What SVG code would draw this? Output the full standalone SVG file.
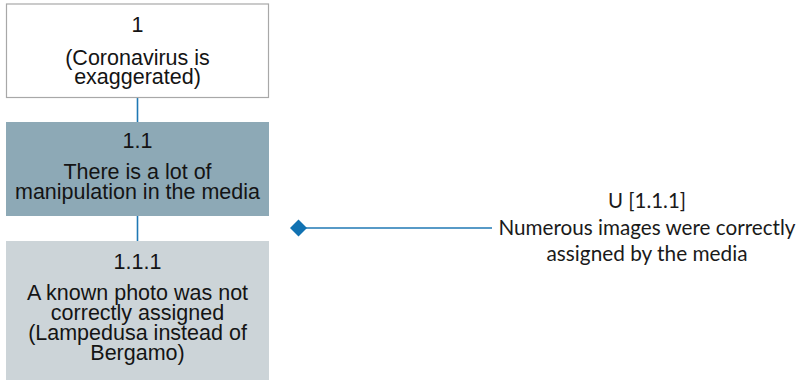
<svg xmlns="http://www.w3.org/2000/svg" width="811" height="380" viewBox="0 0 811 380">
  <style>
    .box-text { font-family: "Liberation Sans", Arial, sans-serif; font-size: 21.5px; fill: #141414; text-anchor: middle; }
    .note-text { font-family: Lato, "Open Sans", sans-serif; font-size: 20.5px; fill: #1a1a1a; text-anchor: middle; }
    .link { stroke: #1f78b4; stroke-width: 1.6; fill: none; }
  </style>
  <rect width="811" height="380" fill="#ffffff"/>

  <!-- connectors -->
  <g id="connectors">
    <line class="link" x1="137.5" y1="97" x2="137.5" y2="122"/>
    <line class="link" x1="137.5" y1="216" x2="137.5" y2="241"/>
    <line class="link" x1="300" y1="228" x2="492" y2="228" stroke="#2a86c0"/>
    <polygon points="298.5,219.5 307,228 298.5,236.5 290,228" fill="#1172b2"/>
  </g>

  <!-- root claim -->
  <g id="node-1">
    <rect x="6.5" y="4" width="262" height="93.5" fill="#ffffff" stroke="#a8a8a8" stroke-width="1.2"/>
    <text class="box-text" x="137.5" y="32">1</text>
    <text class="box-text" x="137.5" y="65">(Coronavirus is</text>
    <text class="box-text" x="137.5" y="84">exaggerated)</text>
  </g>

  <g id="node-1-1">
    <rect x="6" y="122" width="263" height="94" fill="#8da9b6"/>
    <text class="box-text" x="137.5" y="148">1.1</text>
    <text class="box-text" x="137.5" y="179">There is a lot of</text>
    <text class="box-text" x="137.5" y="199">manipulation in the media</text>
  </g>

  <g id="node-1-1-1">
    <rect x="6" y="241" width="263" height="139" fill="#ccd4d8"/>
    <text class="box-text" x="137.5" y="269">1.1.1</text>
    <text class="box-text" x="137.5" y="300">A known photo was not</text>
    <text class="box-text" x="137.5" y="320">correctly assigned</text>
    <text class="box-text" x="137.5" y="340">(Lampedusa instead of</text>
    <text class="box-text" x="137.5" y="360">Bergamo)</text>
  </g>

  <!-- rebuttal note -->
  <g id="node-u-1-1-1">
    <text class="note-text" x="647" y="208" textLength="78" lengthAdjust="spacingAndGlyphs">U [1.1.1]</text>
    <text class="note-text" x="647" y="235" textLength="297" lengthAdjust="spacingAndGlyphs">Numerous images were correctly</text>
    <text class="note-text" x="647" y="261" textLength="201" lengthAdjust="spacingAndGlyphs">assigned by the media</text>
  </g>
</svg>
